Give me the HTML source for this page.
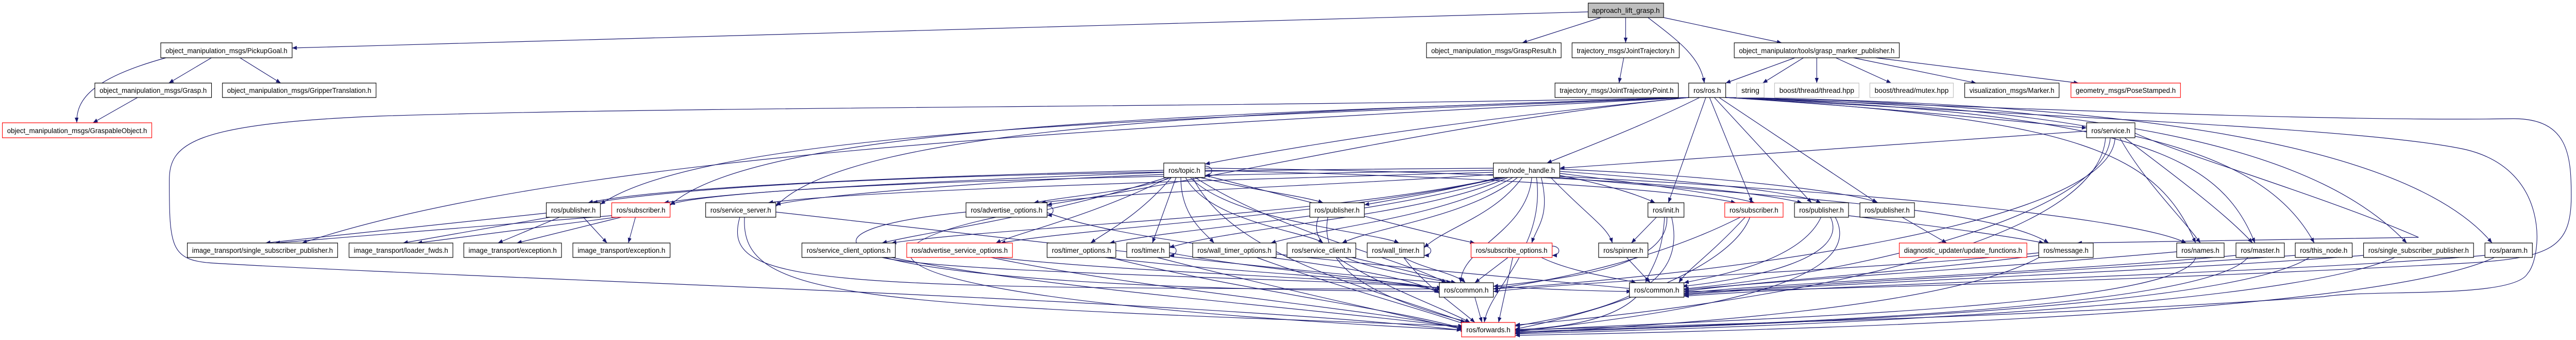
<!DOCTYPE html>
<html><head><meta charset="utf-8"><style>
html,body{margin:0;padding:0;background:#fff;width:100%;height:100%;overflow:hidden;}
svg{display:block;width:100vw;height:100vh;}
text{font-family:"Liberation Sans",sans-serif;font-size:14px;fill:#000;}
.e path{fill:none;stroke:#191970;stroke-width:1.2;}
rect{fill:#fff;stroke:#000;stroke-width:1.2;}
rect.r{stroke:#f00;}
rect.g{stroke:#bfbfbf;}
</style></head><body>
<svg viewBox="0 0 5432 659" preserveAspectRatio="none" xmlns="http://www.w3.org/2000/svg">
<defs><marker id="a" markerUnits="userSpaceOnUse" markerWidth="11" markerHeight="8" refX="10" refY="4" orient="auto"><path d="M0,0 L10,4 L0,8 z" fill="#191970"/></marker></defs>
<g class="e" marker-end="url(#a)">
<path d="M3349,23 L616,93"/>
<path d="M3376,34 L3210,83"/>
<path d="M3428,34 L3428,83"/>
<path d="M3475,34 C3540,80 3585,110 3594,161"/>
<path d="M3508,34 L3757,83"/>
<path d="M350,112 C200,150 160,190 162,238"/>
<path d="M446,112 L356,161"/>
<path d="M506,112 L592,161"/>
<path d="M290,189 L196,238"/>
<path d="M3424,112 L3414,161"/>
<path d="M3785,112 L3639,161"/>
<path d="M3803,112 L3717,161"/>
<path d="M3831,112 L3831,161"/>
<path d="M3871,112 L3988,161"/>
<path d="M3908,112 L4167,161"/>
<path d="M3955,112 L4383,161"/>
<path d="M3639,189 C4000,210 4300,240 4400,248"/>
<path d="M3561,189 C3000,240 2700,290 2541,318"/>
<path d="M3584,189 C3450,250 3330,290 3262,316"/>
<path d="M3561,189 C2500,230 1500,250 1266,396"/>
<path d="M3561,189 C2600,220 1600,240 1413,398"/>
<path d="M3561,189 C2700,215 1800,240 1636,400"/>
<path d="M3561,189 C2300,250 1200,300 637,471"/>
<path d="M3561,189 C2500,210 1500,205 800,225 C400,240 357,280 357,350 C357,480 360,505 450,510 C1000,540 2500,580 3082,640"/>
<path d="M3597,189 L3518,393"/>
<path d="M3605,189 L3695,393"/>
<path d="M3615,189 L3820,393"/>
<path d="M3625,189 L3958,393"/>
<path d="M3639,189 C4400,230 4550,300 4630,471"/>
<path d="M3639,189 C4500,220 4680,300 4755,471"/>
<path d="M3639,189 C4500,210 4780,300 4880,471"/>
<path d="M3639,189 C4500,200 4900,300 5075,471"/>
<path d="M3639,189 C4600,200 5100,300 5255,471"/>
<path d="M3639,189 C4500,220 5000,235 5300,230 C5415,230 5422,300 5422,380 C5422,480 5380,500 5200,510 C4600,540 3900,560 3551,565"/>
<path d="M3639,189 C4400,230 5000,250 5200,290 C5380,330 5360,500 5330,530 C5300,580 5000,560 4900,575 C4200,620 3500,630 3195,640"/>
<path d="M3561,189 C3100,230 2600,340 2208,397"/>
<path d="M4400,254 L3289,326"/>
<path d="M4450,267 C4440,400 4000,520 3551,560"/>
<path d="M4440,267 C4420,500 3600,600 3195,630"/>
<path d="M4460,267 C4450,450 3500,540 3149,560"/>
<path d="M4470,267 C4520,350 4600,420 4640,471"/>
<path d="M4480,267 C4600,350 4700,420 4750,471"/>
<path d="M4502,258 C4600,300 4900,380 5100,460 L4380,471"/>
<path d="M2454,330 C2000,340 1400,360 1240,393"/>
<path d="M2454,334 C2000,350 1500,370 1413,396"/>
<path d="M2454,338 C2100,350 1700,380 1636,397"/>
<path d="M2470,344 C2400,370 2250,380 2180,393"/>
<path d="M2530,344 C2650,370 2750,380 2790,393"/>
<path d="M2480,344 L2430,471"/>
<path d="M2490,344 C2490,420 2540,450 2560,471"/>
<path d="M2500,344 C2550,430 2760,450 2790,471"/>
<path d="M2510,344 C2600,430 2900,450 2950,471"/>
<path d="M2541,340 C2800,400 3000,450 3110,471"/>
<path d="M2470,344 C2400,420 2330,450 2300,471"/>
<path d="M2460,344 C2200,420 1950,450 1860,471"/>
<path d="M2465,344 C2300,420 2150,450 2100,471"/>
<path d="M2520,344 C2700,450 2950,500 3050,548"/>
<path d="M2515,344 C2600,500 2900,560 3090,625"/>
<path d="M2541,330 C3000,340 3500,360 3660,393"/>
<path d="M2541,326 C3000,330 3600,350 3800,393"/>
<path d="M2541,322 C2560,322 2560,340 2541,340"/>
<path d="M3149,326 C2500,330 1600,340 1250,393"/>
<path d="M3149,330 C2500,340 1700,350 1400,393"/>
<path d="M3149,334 C2500,350 1800,370 1620,393"/>
<path d="M3149,338 C2800,360 2400,370 2195,393"/>
<path d="M3160,344 C3050,370 2950,385 2877,397"/>
<path d="M3165,344 C2800,420 2100,440 1880,471"/>
<path d="M3170,344 C2800,420 2300,440 2110,471"/>
<path d="M3175,344 C2900,420 2500,440 2340,471"/>
<path d="M3180,344 C3000,420 2600,440 2466,480"/>
<path d="M3190,344 C3050,420 2800,440 2680,471"/>
<path d="M3200,344 C3100,420 2900,440 2830,471"/>
<path d="M3210,344 C3150,420 3050,440 3003,480"/>
<path d="M3250,344 C3270,420 3240,440 3230,471"/>
<path d="M3270,344 C3350,420 3390,440 3400,471"/>
<path d="M3289,340 C3400,360 3460,380 3490,393"/>
<path d="M3289,336 C3500,360 3650,380 3700,393"/>
<path d="M3289,332 C3550,350 3780,370 3840,393"/>
<path d="M3289,328 C3600,340 3900,370 3960,393"/>
<path d="M3230,344 C3220,450 3080,480 3080,548"/>
<path d="M3240,344 C3260,480 3140,560 3130,625"/>
<path d="M3289,344 C3700,380 4200,400 4320,471"/>
<path d="M3289,342 C3900,370 4500,420 4610,471"/>
<path d="M1152,413 L560,471"/><path d="M1160,421 L850,471"/><path d="M1180,421 L1050,471"/><path d="M1230,421 L1280,471"/>
<path d="M1290,418 L580,471"/><path d="M1300,421 L880,471"/><path d="M1310,421 L1090,471"/><path d="M1340,421 L1325,471"/>
<path d="M1560,421 C1520,550 1700,560 3040,560"/>
<path d="M1570,421 C1560,580 1800,590 3085,632"/>
<path d="M1636,411 C2500,500 3000,560 3440,565"/>
<path d="M2037,411 C1600,450 1700,560 3045,565"/>
<path d="M2100,421 C1600,520 2200,600 3090,640"/>
<path d="M2208,412 C2400,480 3000,520 3445,560"/>
<path d="M2780,421 C2750,500 2900,520 3060,548"/>
<path d="M2800,421 C2780,520 2900,580 3100,625"/>
<path d="M3493,421 L3440,471"/>
<path d="M3510,421 C3505,500 3480,520 3470,548"/>
<path d="M3515,421 C3520,520 3300,540 3149,555"/>
<path d="M3525,421 C3560,560 3400,600 3195,632"/>
<path d="M3680,421 C3600,500 3560,520 3540,548"/>
<path d="M3690,421 C3650,520 3400,600 3195,638"/>
<path d="M3670,421 C3500,500 3300,540 3149,560"/>
<path d="M3860,421 C3900,500 3700,540 3548,555"/>
<path d="M3870,421 C3950,560 3500,610 3195,643"/>
<path d="M3898,418 C4100,440 4250,460 4310,471"/>
<path d="M4011,421 L4105,471"/>
<path d="M3840,421 C3800,500 3650,530 3551,548"/>
<path d="M1860,499 C2000,530 2800,540 3040,558"/>
<path d="M1880,499 C2200,560 2800,600 3085,635"/>
<path d="M2100,499 C2400,530 2900,540 3045,560"/>
<path d="M2090,499 C2400,560 2900,600 3088,637"/>
<path d="M2330,499 C2600,530 2950,540 3050,562"/>
<path d="M2340,499 C2600,560 2950,600 3090,638"/>
<path d="M2466,490 C2700,530 2950,540 3035,565"/>
<path d="M2440,499 C2700,560 2950,610 3092,640"/>
<path d="M2650,499 C2800,550 3000,600 3095,630"/>
<path d="M2680,499 C2850,520 2980,540 3035,568"/>
<path d="M2820,499 C2900,550 3050,600 3100,625"/>
<path d="M2850,499 C2950,520 3030,540 3070,548"/>
<path d="M2960,499 C3000,520 3070,530 3090,548"/>
<path d="M2960,499 C3000,550 3080,600 3110,625"/>
<path d="M3180,499 L3110,548"/>
<path d="M3190,499 L3160,625"/>
<path d="M3250,499 C3320,530 3420,540 3450,548"/>
<path d="M3430,499 L3480,548"/>
<path d="M4299,490 C4000,520 3400,540 3149,565"/>
<path d="M4299,495 C4000,530 3700,545 3551,565"/>
<path d="M4300,499 C4100,600 3500,630 3195,646"/>
<path d="M4590,488 C4200,520 3800,540 3551,562"/>
<path d="M4630,499 C4600,600 3600,620 3195,641"/>
<path d="M4715,495 C4300,530 3800,545 3551,568"/>
<path d="M4740,499 C4650,600 3700,630 3195,643"/>
<path d="M4840,495 C4300,530 3800,550 3551,570"/>
<path d="M4870,499 C4700,600 3700,630 3195,645"/>
<path d="M4984,495 C4500,530 3800,550 3551,572"/>
<path d="M5050,499 C4800,600 3700,635 3195,647"/>
<path d="M5240,495 C4800,530 3900,550 3551,574"/>
<path d="M5260,499 C5000,610 3800,640 3195,650"/>
<path d="M3110,576 L3125,625"/>
<path d="M3450,576 C3400,620 3300,635 3195,639"/>
<path d="M2208,399 C2225,399 2225,417 2208,417"/>
<path d="M2466,477 C2485,477 2485,495 2466,495"/>
<path d="M3003,477 C3022,477 3022,495 3003,495"/>
<path d="M3273,477 C3292,477 3292,495 3273,495"/>
</g>
<g>
<rect x="3349" y="6" width="159" height="28" style="fill:#bfbfbf"/><text x="3357" y="25" textLength="143" lengthAdjust="spacingAndGlyphs">approach_lift_grasp.h</text>
<rect x="339" y="83" width="277" height="29"/><text x="349" y="103" textLength="257" lengthAdjust="spacingAndGlyphs">object_manipulation_msgs/PickupGoal.h</text>
<rect x="3008" y="83" width="284" height="29"/><text x="3018" y="103" textLength="264" lengthAdjust="spacingAndGlyphs">object_manipulation_msgs/GraspResult.h</text>
<rect x="3315" y="83" width="226" height="29"/><text x="3325" y="103" textLength="206" lengthAdjust="spacingAndGlyphs">trajectory_msgs/JointTrajectory.h</text>
<rect x="3657" y="83" width="348" height="29"/><text x="3667" y="103" textLength="328" lengthAdjust="spacingAndGlyphs">object_manipulator/tools/grasp_marker_publisher.h</text>
<rect x="200" y="161" width="246" height="28"/><text x="210" y="180" textLength="226" lengthAdjust="spacingAndGlyphs">object_manipulation_msgs/Grasp.h</text>
<rect x="469" y="161" width="324" height="28"/><text x="479" y="180" textLength="304" lengthAdjust="spacingAndGlyphs">object_manipulation_msgs/GripperTranslation.h</text>
<rect x="3279" y="161" width="260" height="28"/><text x="3289" y="180" textLength="240" lengthAdjust="spacingAndGlyphs">trajectory_msgs/JointTrajectoryPoint.h</text>
<rect x="3561" y="161" width="78" height="28"/><text x="3571" y="180" textLength="58" lengthAdjust="spacingAndGlyphs">ros/ros.h</text>
<rect class="g" x="3662" y="161" width="58" height="28"/><text x="3672" y="180" textLength="38" lengthAdjust="spacingAndGlyphs">string</text>
<rect class="g" x="3742" y="161" width="178" height="28"/><text x="3752" y="180" textLength="158" lengthAdjust="spacingAndGlyphs">boost/thread/thread.hpp</text>
<rect class="g" x="3943" y="161" width="176" height="28"/><text x="3953" y="180" textLength="156" lengthAdjust="spacingAndGlyphs">boost/thread/mutex.hpp</text>
<rect x="4143" y="161" width="199" height="28"/><text x="4153" y="180" textLength="179" lengthAdjust="spacingAndGlyphs">visualization_msgs/Marker.h</text>
<rect class="r" x="4367" y="161" width="231" height="28"/><text x="4377" y="180" textLength="211" lengthAdjust="spacingAndGlyphs">geometry_msgs/PoseStamped.h</text>
<rect class="r" x="5" y="238" width="315" height="29"/><text x="15" y="258" textLength="295" lengthAdjust="spacingAndGlyphs">object_manipulation_msgs/GraspableObject.h</text>
<rect x="4400" y="238" width="102" height="29"/><text x="4410" y="258" textLength="82" lengthAdjust="spacingAndGlyphs">ros/service.h</text>
<rect x="2454" y="316" width="87" height="28"/><text x="2464" y="335" textLength="67" lengthAdjust="spacingAndGlyphs">ros/topic.h</text>
<rect x="3149" y="316" width="140" height="28"/><text x="3159" y="335" textLength="120" lengthAdjust="spacingAndGlyphs">ros/node_handle.h</text>
<rect x="1152" y="393" width="114" height="28"/><text x="1162" y="412" textLength="94" lengthAdjust="spacingAndGlyphs">ros/publisher.h</text>
<rect class="r" x="1290" y="393" width="123" height="28"/><text x="1300" y="412" textLength="103" lengthAdjust="spacingAndGlyphs">ros/subscriber.h</text>
<rect x="1488" y="393" width="148" height="28"/><text x="1498" y="412" textLength="128" lengthAdjust="spacingAndGlyphs">ros/service_server.h</text>
<rect x="2037" y="393" width="171" height="28"/><text x="2047" y="412" textLength="151" lengthAdjust="spacingAndGlyphs">ros/advertise_options.h</text>
<rect x="2762" y="393" width="115" height="28"/><text x="2772" y="412" textLength="95" lengthAdjust="spacingAndGlyphs">ros/publisher.h</text>
<rect x="3475" y="393" width="76" height="28"/><text x="3485" y="412" textLength="56" lengthAdjust="spacingAndGlyphs">ros/init.h</text>
<rect class="r" x="3637" y="393" width="123" height="28"/><text x="3647" y="412" textLength="103" lengthAdjust="spacingAndGlyphs">ros/subscriber.h</text>
<rect x="3784" y="393" width="114" height="28"/><text x="3794" y="412" textLength="94" lengthAdjust="spacingAndGlyphs">ros/publisher.h</text>
<rect x="3922" y="393" width="115" height="28"/><text x="3932" y="412" textLength="95" lengthAdjust="spacingAndGlyphs">ros/publisher.h</text>
<rect x="395" y="471" width="317" height="28"/><text x="405" y="490" textLength="297" lengthAdjust="spacingAndGlyphs">image_transport/single_subscriber_publisher.h</text>
<rect x="736" y="471" width="219" height="28"/><text x="746" y="490" textLength="199" lengthAdjust="spacingAndGlyphs">image_transport/loader_fwds.h</text>
<rect x="978" y="471" width="206" height="28"/><text x="988" y="490" textLength="186" lengthAdjust="spacingAndGlyphs">image_transport/exception.h</text>
<rect x="1208" y="471" width="205" height="28"/><text x="1218" y="490" textLength="185" lengthAdjust="spacingAndGlyphs">image_transport/exception.h</text>
<rect x="1691" y="471" width="197" height="28"/><text x="1701" y="490" textLength="177" lengthAdjust="spacingAndGlyphs">ros/service_client_options.h</text>
<rect class="r" x="1912" y="471" width="223" height="28"/><text x="1922" y="490" textLength="203" lengthAdjust="spacingAndGlyphs">ros/advertise_service_options.h</text>
<rect x="2208" y="471" width="145" height="28"/><text x="2218" y="490" textLength="125" lengthAdjust="spacingAndGlyphs">ros/timer_options.h</text>
<rect x="2376" y="471" width="90" height="28"/><text x="2386" y="490" textLength="70" lengthAdjust="spacingAndGlyphs">ros/timer.h</text>
<rect x="2515" y="471" width="176" height="28"/><text x="2525" y="490" textLength="156" lengthAdjust="spacingAndGlyphs">ros/wall_timer_options.h</text>
<rect x="2714" y="471" width="145" height="28"/><text x="2724" y="490" textLength="125" lengthAdjust="spacingAndGlyphs">ros/service_client.h</text>
<rect x="2883" y="471" width="120" height="28"/><text x="2893" y="490" textLength="100" lengthAdjust="spacingAndGlyphs">ros/wall_timer.h</text>
<rect class="r" x="3102" y="471" width="171" height="28"/><text x="3112" y="490" textLength="151" lengthAdjust="spacingAndGlyphs">ros/subscribe_options.h</text>
<rect x="3371" y="471" width="104" height="28"/><text x="3381" y="490" textLength="84" lengthAdjust="spacingAndGlyphs">ros/spinner.h</text>
<rect class="r" x="4005" y="471" width="269" height="28"/><text x="4015" y="490" textLength="249" lengthAdjust="spacingAndGlyphs">diagnostic_updater/update_functions.h</text>
<rect x="4299" y="471" width="115" height="28"/><text x="4309" y="490" textLength="95" lengthAdjust="spacingAndGlyphs">ros/message.h</text>
<rect x="4590" y="471" width="100" height="28"/><text x="4600" y="490" textLength="80" lengthAdjust="spacingAndGlyphs">ros/names.h</text>
<rect x="4715" y="471" width="102" height="28"/><text x="4725" y="490" textLength="82" lengthAdjust="spacingAndGlyphs">ros/master.h</text>
<rect x="4840" y="471" width="120" height="28"/><text x="4850" y="490" textLength="100" lengthAdjust="spacingAndGlyphs">ros/this_node.h</text>
<rect x="4984" y="471" width="232" height="28"/><text x="4994" y="490" textLength="212" lengthAdjust="spacingAndGlyphs">ros/single_subscriber_publisher.h</text>
<rect x="5240" y="471" width="100" height="28"/><text x="5250" y="490" textLength="80" lengthAdjust="spacingAndGlyphs">ros/param.h</text>
<rect x="3035" y="548" width="114" height="28"/><text x="3045" y="567" textLength="94" lengthAdjust="spacingAndGlyphs">ros/common.h</text>
<rect x="3436" y="548" width="115" height="28"/><text x="3446" y="567" textLength="95" lengthAdjust="spacingAndGlyphs">ros/common.h</text>
<rect class="r" x="3082" y="625" width="113" height="28"/><text x="3092" y="644" textLength="93" lengthAdjust="spacingAndGlyphs">ros/forwards.h</text>
</g>
</svg>
</body></html>
